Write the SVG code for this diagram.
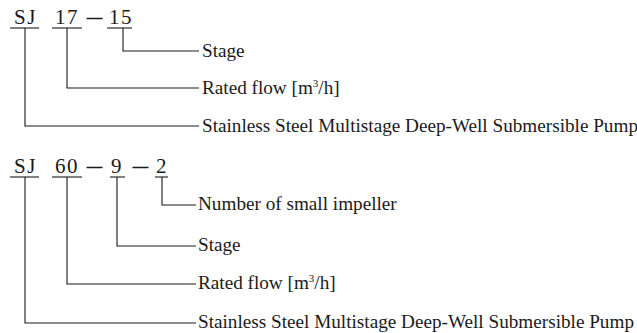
<svg xmlns="http://www.w3.org/2000/svg" width="637" height="333" viewBox="0 0 637 333">
<style>
.code{font-family:"Liberation Serif","Times New Roman",serif;font-size:21px;fill:#1a1a1a;letter-spacing:1.5px}
.dash{font-family:"Liberation Serif","Times New Roman",serif;font-size:15px;fill:#1a1a1a;stroke:#1a1a1a;stroke-width:0.7}
.lbl{font-family:"Liberation Serif","Times New Roman",serif;font-size:19.2px;fill:#1a1a1a}
.sup{font-size:11px}
line,polyline{stroke:#1a1a1a;stroke-width:1.1;fill:none}
</style>
<rect width="637" height="333" fill="#ffffff"/>
<g id="code1">
<text class="code" x="14" y="24">SJ</text>
<text class="code" x="55" y="24">17</text>
<text class="dash" x="87" y="22">—</text>
<text class="code" x="109" y="24">15</text>
</g>
<g id="labels1">
<text class="lbl" x="202" y="57">Stage</text>
<text class="lbl" x="202" y="94">Rated flow [m<tspan class="sup" dy="-7">3</tspan><tspan dy="7">/h]</tspan></text>
<text class="lbl" x="202" y="132">Stainless Steel Multistage Deep-Well Submersible Pump</text>
</g>
<g id="code2">
<text class="code" x="14" y="173">SJ</text>
<text class="code" x="55" y="173">60</text>
<text class="dash" x="87" y="171">—</text>
<text class="code" x="111" y="173">9</text>
<text class="dash" x="133" y="171">—</text>
<text class="code" x="156" y="173">2</text>
</g>
<g id="labels2">
<text class="lbl" x="198" y="210">Number of small impeller</text>
<text class="lbl" x="198" y="251">Stage</text>
<text class="lbl" x="198" y="289">Rated flow [m<tspan class="sup" dy="-7">3</tspan><tspan dy="7">/h]</tspan></text>
<text class="lbl" x="198" y="328">Stainless Steel Multistage Deep-Well Submersible Pump</text>
</g>
<g id="connectors">
<line x1="10" y1="28" x2="39" y2="28"/>
<line x1="52" y1="28" x2="82" y2="28"/>
<line x1="107" y1="28" x2="132" y2="28"/>
<polyline points="123,28 123,51 199,51"/>
<polyline points="67,28 67,88 199,88"/>
<polyline points="25,28 25,126 199,126"/>
<line x1="10" y1="177" x2="39" y2="177"/>
<line x1="52" y1="177" x2="82" y2="177"/>
<line x1="110" y1="177" x2="125" y2="177"/>
<line x1="155" y1="177" x2="168" y2="177"/>
<polyline points="162,177 162,205 196,205"/>
<polyline points="117,177 117,246 196,246"/>
<polyline points="67,177 67,284 196,284"/>
<polyline points="25,177 25,323 196,323"/>
</g>
</svg>
